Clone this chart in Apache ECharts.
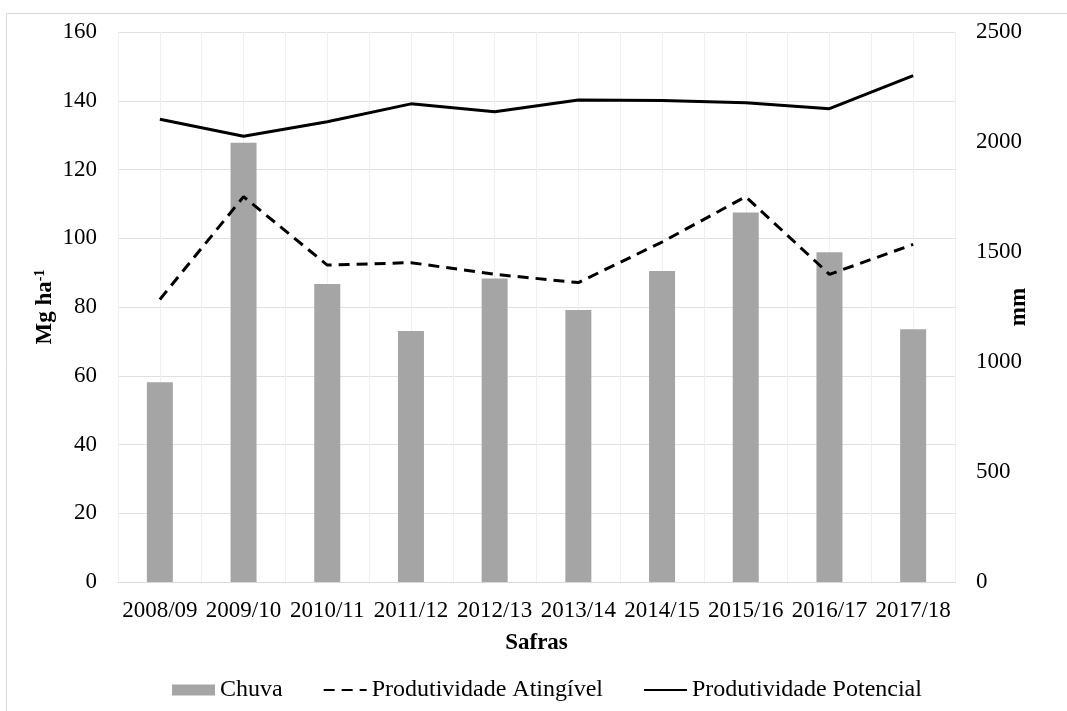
<!DOCTYPE html>
<html>
<head>
<meta charset="utf-8">
<script src="https://cdn.jsdelivr.net/npm/echarts@6/dist/echarts.min.js"></script>
<style>
html,body{margin:0;padding:0;background:#fff;}
#chart{width:1067px;height:711px;}
</style>
</head>
<body>
<div id="chart"></div>
<script>
const categories = ['2008/09','2009/10','2010/11','2011/12','2012/13','2013/14','2014/15','2015/16','2016/17','2017/18'];
const chuva = [908, 1997, 1355, 1141, 1379, 1236, 1414, 1680, 1499, 1149];
const atingivel = [82.2, 112.1, 92.2, 92.9, 89.5, 87.1, 98.9, 112.1, 89.5, 98.2];
const potencial = [134.6, 129.7, 133.9, 139.1, 136.8, 140.2, 140.1, 139.4, 137.7, 147.3];
const leftTicks = {min: 0, max: 160, interval: 20};
const rightTicks = {min: 0, max: 2500, interval: 500};

const FONT = '"Liberation Serif", "Times New Roman", serif';
const FS = 23;
const chart = echarts.init(document.getElementById('chart'));
chart.setOption({
  animation: false,
  backgroundColor: '#fff',
  textStyle: {fontFamily: FONT, color: '#000'},
  graphic: [{
    type: 'rect', left: 4, top: 11, z: -10,
    shape: {width: 1100, height: 720},
    style: {fill: 'none', stroke: '#d9d9d9', lineWidth: 1}
  }],
  grid: {left: 118, right: 112, top: 32, bottom: 129, containLabel: false},
  legend: {
    top: 678, left: 172, padding: 0,
    itemWidth: 43, itemHeight: 11, itemGap: 40,
    textStyle: {fontFamily: FONT, fontSize: 24, color: '#000'},
    data: [
      {name: 'Chuva', icon: 'rect'},
      {name: 'Produtividade Atingível', itemStyle: {opacity: 0}},
      {name: 'Produtividade Potencial', itemStyle: {opacity: 0}}
    ]
  },
  xAxis: [{
    type: 'category', data: categories,
    axisLine: {show: true, lineStyle: {color: '#d9d9d9'}},
    axisTick: {show: false},
    splitLine: {show: false},
    axisLabel: {interval: 0, fontFamily: FONT, fontSize: FS, color: '#000', margin: 17},
    name: 'Safras', nameLocation: 'middle', nameGap: 50, nameMoveOverlap: false,
    nameTextStyle: {fontFamily: FONT, fontSize: FS, fontWeight: 'bold', color: '#000'}
  }, {
    type: 'value', min: 0, max: 20, interval: 1, position: 'bottom',
    axisLine: {show: false}, axisTick: {show: false}, axisLabel: {show: false},
    splitLine: {show: true, lineStyle: {color: '#f0f0f0', width: 1}}
  }],
  yAxis: [{
    type: 'value', min: leftTicks.min, max: leftTicks.max, interval: leftTicks.interval,
    axisLine: {show: false}, axisTick: {show: false},
    splitLine: {show: true, lineStyle: {color: '#e0e0e0', width: 1}},
    axisLabel: {fontFamily: FONT, fontSize: FS, color: '#000', margin: 21},
    name: '{a|Mg ha}{b|-1}', nameLocation: 'middle', nameRotate: 90, nameGap: 61, nameMoveOverlap: false,
    nameTextStyle: {
      rich: {
        a: {fontFamily: FONT, fontSize: FS, fontWeight: 'bold', color: '#000'},
        b: {fontFamily: FONT, fontSize: 14, fontWeight: 'bold', color: '#000', verticalAlign: 'top', padding: [0,0,10,0]}
      }
    }
  }, {
    type: 'value', min: rightTicks.min, max: rightTicks.max, interval: rightTicks.interval,
    position: 'right',
    axisLine: {show: false}, axisTick: {show: false},
    splitLine: {show: false},
    axisLabel: {fontFamily: FONT, fontSize: FS, color: '#000', margin: 21, formatter: v => String(v)},
    name: 'mm', nameLocation: 'middle', nameRotate: 90, nameGap: 53, nameMoveOverlap: false,
    nameTextStyle: {fontFamily: FONT, fontSize: FS, fontWeight: 'bold', color: '#000'}
  }],
  series: [{
    name: 'Chuva', type: 'bar', yAxisIndex: 1, data: chuva,
    barWidth: 26, itemStyle: {color: '#a5a5a5'}, z: 2
  }, {
    name: 'Produtividade Atingível', type: 'line', yAxisIndex: 0, data: atingivel,
    symbol: 'none', color: '#000',
    lineStyle: {color: '#000', width: 3, type: [11, 7]}, z: 3
  }, {
    name: 'Produtividade Potencial', type: 'line', yAxisIndex: 0, data: potencial,
    symbol: 'none', color: '#000',
    lineStyle: {color: '#000', width: 3}, z: 3
  }]
});
</script>
</body>
</html>
